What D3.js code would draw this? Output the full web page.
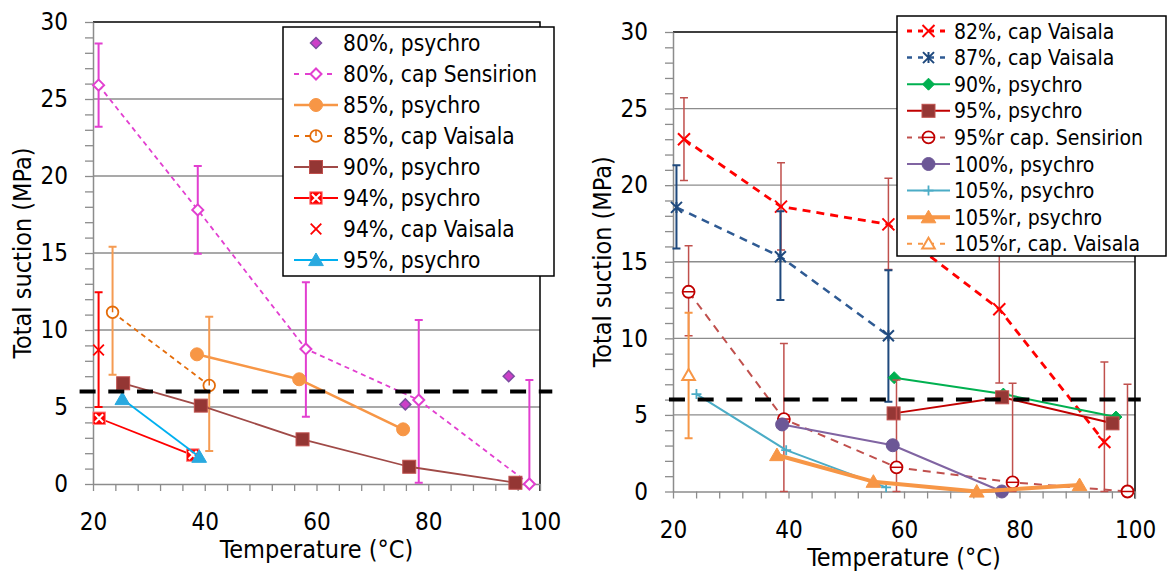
<!DOCTYPE html>
<html>
<head>
<meta charset="utf-8">
<script src="https://cdn.jsdelivr.net/npm/d3@7"></script>
<style>
  body { margin: 0; background: #fff; }
  svg { display: block; font-family: "DejaVu Sans Condensed", "DejaVu Sans", Verdana, sans-serif; font-stretch: condensed; }
</style>
</head>
<body>
<svg id="chart" width="1168" height="572"></svg>
<script>
// ---- values: [temperature, suction, errLow, errHigh] ----
var xTicks = [20, 40, 60, 80, 100];
var yTicks = [0, 5, 10, 15, 20, 25, 30];
var threshold = 6;
var thresholdLeft = [17.6, 102.2];
var thresholdRight = [19.3, 101.0];

// left panel
var psy80 = [[75.9, 5.17], [94.4, 7.0]];
var sens80 = [[21.0, 25.9, 23.2, 28.6], [38.75, 17.8, 14.95, 20.65], [58.1, 8.77, 4.37, 13.1], [78.3, 5.45, 0.08, 10.65], [98.1, 0, 0, 6.75]];
var psy85 = [[38.6, 8.42], [56.9, 6.8], [75.5, 3.55]];
var vais85 = [[23.5, 11.15, 7.1, 15.4], [40.8, 6.4, 2.14, 10.86]];
var psy90 = [[25.4, 6.54], [39.3, 5.09], [57.5, 2.9], [76.6, 1.12], [95.6, 0.08]];
var psy94 = [[21.1, 4.27], [37.85, 1.88]];
var vais94 = [[21.0, 8.7, 5.0, 12.45]];
var psy95 = [[25.25, 5.52], [39.0, 1.77]];

// right panel
var vais82 = [[21.9, 23.0, 20.3, 25.7], [38.7, 18.6, 15.76, 21.46], [57.3, 17.44, 14.5, 20.45], [76.5, 11.9, 7.08, 16.7], [94.7, 3.23, 0, 8.45]];
var vais87 = [[20.6, 18.55, 15.87, 21.3], [38.6, 15.33, 12.5, 18.3], [57.3, 10.17, 5.86, 14.45]];
var psy90r = [[58.3, 7.43], [77.2, 6.36], [96.7, 4.86]];
var psy95r = [[58.2, 5.1], [77.0, 6.15], [96.1, 4.45]];
var sens95r = [[22.7, 13.04, 10.17, 16.04], [39.2, 4.73, 0, 9.67], [58.7, 1.58, 0, 7.28], [78.8, 0.6, 0, 7.06], [98.7, 0, 0, 7.0]];
var psy100 = [[38.9, 4.38], [58.05, 3.02], [76.95, 0]];
var psy105 = [[24.06, 6.36], [39.6, 2.7], [56.9, 0.27]];
var psy105rr = [[38.0, 2.38], [54.7, 0.64], [72.6, 0], [90.4, 0.42]];
var vais105rr = [[22.7, 7.6, 3.47, 11.67]];

var leftSeries = [
  {name: "80%, psychro", data: psy80, line: null,
    marker: {shape: "diamond", r: 5.5, fill: "#CC3FC8", stroke: "#7B4EA0", sw: 1.5}},
  {name: "80%, cap Sensirion", data: sens80, line: {color: "#E23FD0", w: 1.8, dash: "5,4"},
    err: {color: "#E23FD0", w: 2},
    marker: {shape: "diamond", r: 5.5, fill: "#fff", stroke: "#E23FD0", sw: 2}},
  {name: "85%, psychro", data: psy85, line: {color: "#F79646", w: 2.5},
    marker: {shape: "circle", r: 6.5, fill: "#F79646", stroke: "#F79646", sw: 1}},
  {name: "85%, cap Vaisala", data: vais85, line: {color: "#E46C0A", w: 1.8, dash: "5,4"},
    err: {color: "#F59B52", w: 2},
    marker: {shape: "circleTick", r: 5.8, fill: "#fff", stroke: "#E46C0A", sw: 1.8}},
  {name: "90%, psychro", data: psy90, line: {color: "#A04A47", w: 1.8},
    marker: {shape: "square", r: 6.5, fill: "#943634", stroke: "#C0504D", sw: 1}},
  {name: "94%, psychro", data: psy94, line: {color: "#FF0000", w: 1.8},
    marker: {shape: "squareX", r: 6.2, fill: "#FF0000", stroke: "#FF8080", sw: 1}},
  {name: "94%, cap Vaisala", data: vais94, line: null,
    err: {color: "#FF0000", w: 2},
    marker: {shape: "x", r: 5.3, fill: "none", stroke: "#FF0000", sw: 1.8}},
  {name: "95%, psychro", data: psy95, line: {color: "#00B0F0", w: 1.8},
    marker: {shape: "triangle", r: 7, fill: "#29A9DF", stroke: "#29A9DF", sw: 1}}
];

var rightSeries = [
  {name: "82%, cap Vaisala", data: vais82, line: {color: "#FF0000", w: 2.8, dash: "8,6"},
    err: {color: "#C0504D", w: 1.5},
    marker: {shape: "x", r: 6, fill: "none", stroke: "#FF0000", sw: 2}},
  {name: "87%, cap Vaisala", data: vais87, line: {color: "#2E5A93", w: 2.5, dash: "8,6"},
    err: {color: "#1F497D", w: 2},
    marker: {shape: "star", r: 5.5, fill: "none", stroke: "#1F497D", sw: 2}},
  {name: "90%, psychro", data: psy90r, line: {color: "#00B050", w: 2},
    marker: {shape: "diamond", r: 6, fill: "#00B050", stroke: "#00B050", sw: 1}},
  {name: "95%, psychro", data: psy95r, line: {color: "#C00000", w: 2},
    marker: {shape: "square", r: 6.5, fill: "#953735", stroke: "#C0504D", sw: 1}},
  {name: "95%r cap. Sensirion", data: sens95r, line: {color: "#C0504D", w: 2, dash: "8,6"},
    err: {color: "#C0504D", w: 1.5},
    marker: {shape: "circleDash", r: 6, fill: "#fff", stroke: "#C00000", sw: 1.8}},
  {name: "100%, psychro", data: psy100, line: {color: "#8064A2", w: 2},
    marker: {shape: "circle", r: 6.5, fill: "#6C5796", stroke: "#6C5796", sw: 1}},
  {name: "105%, psychro", data: psy105, line: {color: "#4BACC6", w: 2},
    marker: {shape: "plus", r: 5, fill: "none", stroke: "#4BACC6", sw: 1.8}},
  {name: "105%r, psychro", data: psy105rr, line: {color: "#F79646", w: 4},
    marker: {shape: "triangle", r: 7, fill: "#F79646", stroke: "#F79646", sw: 1}},
  {name: "105%r, cap. Vaisala", data: vais105rr, line: {color: "#F79646", w: 2, dash: "8,6"},
    err: {color: "#F79646", w: 2},
    marker: {shape: "triangleOpen", r: 6, fill: "#fff", stroke: "#F79646", sw: 2}}
];

var svg = d3.select("#chart");

function drawMarker(g, m, cx, cy) {
  var r = m.r;
  var p;
  if (m.shape === "circle" || m.shape === "circleTick" || m.shape === "circleDash") {
    g.append("circle").attr("cx", cx).attr("cy", cy).attr("r", r)
      .attr("fill", m.fill).attr("stroke", m.stroke).attr("stroke-width", m.sw);
    if (m.shape === "circleTick") {
      g.append("line").attr("x1", cx).attr("x2", cx).attr("y1", cy - r).attr("y2", cy)
        .attr("stroke", m.stroke).attr("stroke-width", 1.5);
    }
    if (m.shape === "circleDash") {
      g.append("line").attr("x1", cx - r).attr("x2", cx + r).attr("y1", cy).attr("y2", cy)
        .attr("stroke", m.stroke).attr("stroke-width", 1.5);
    }
    return;
  }
  if (m.shape === "square" || m.shape === "squareX") {
    g.append("rect").attr("x", cx - r).attr("y", cy - r).attr("width", 2 * r).attr("height", 2 * r)
      .attr("fill", m.fill).attr("stroke", m.stroke).attr("stroke-width", m.sw);
    if (m.shape === "squareX") {
      var k = r * 0.65;
      g.append("path")
        .attr("d", "M" + (cx - k) + "," + (cy - k) + "L" + (cx + k) + "," + (cy + k) +
          "M" + (cx + k) + "," + (cy - k) + "L" + (cx - k) + "," + (cy + k))
        .attr("stroke", "#fff").attr("stroke-width", 2).attr("fill", "none");
    }
    return;
  }
  if (m.shape === "diamond") {
    p = "M" + cx + "," + (cy - r) + "L" + (cx + r) + "," + cy + "L" + cx + "," + (cy + r) + "L" + (cx - r) + "," + cy + "Z";
  } else if (m.shape === "triangle" || m.shape === "triangleOpen") {
    p = "M" + cx + "," + (cy - r) + "L" + (cx + r * 1.05) + "," + (cy + r * 0.8) + "L" + (cx - r * 1.05) + "," + (cy + r * 0.8) + "Z";
  } else if (m.shape === "x") {
    p = "M" + (cx - r) + "," + (cy - r) + "L" + (cx + r) + "," + (cy + r) + "M" + (cx + r) + "," + (cy - r) + "L" + (cx - r) + "," + (cy + r);
  } else if (m.shape === "star") {
    p = "M" + (cx - r) + "," + (cy - r) + "L" + (cx + r) + "," + (cy + r) + "M" + (cx + r) + "," + (cy - r) + "L" + (cx - r) + "," + (cy + r) +
      "M" + cx + "," + (cy - r) + "L" + cx + "," + (cy + r);
  } else if (m.shape === "plus") {
    p = "M" + (cx - r) + "," + cy + "L" + (cx + r) + "," + cy + "M" + cx + "," + (cy - r) + "L" + cx + "," + (cy + r);
  }
  g.append("path").attr("d", p).attr("fill", m.fill).attr("stroke", m.stroke).attr("stroke-width", m.sw);
}

function drawPanel(cfg) {
  var x = d3.scaleLinear().domain([20, 100]).range([cfg.left, cfg.right]);
  var y = d3.scaleLinear().domain([0, 30]).range([cfg.bottom, cfg.top]);
  var g = svg.append("g");
  var gridColor = "#8C8C8C";

  // gridlines
  g.append("g").selectAll("line")
    .data(yTicks.filter(function(d) { return d > 0 && d < 30; }))
    .enter().append("line")
    .attr("x1", cfg.left).attr("x2", cfg.right)
    .attr("y1", function(d) { return y(d); }).attr("y2", function(d) { return y(d); })
    .attr("stroke", gridColor).attr("stroke-width", 1.3);

  // top and right border of plot area
  g.append("path")
    .attr("d", "M" + cfg.left + "," + cfg.top + "H" + cfg.right + "V" + (cfg.bottom + 7))
    .attr("fill", "none").attr("stroke", "#000").attr("stroke-width", 1.5);

  // axes
  var yAxis = d3.axisLeft(y)
    .tickValues(d3.range(0, 31, 1))
    .tickSize(8).tickSizeOuter(0).tickPadding(17)
    .tickFormat(function(d) { return yTicks.indexOf(d) >= 0 ? d : ""; });
  var xAxis = d3.axisBottom(x)
    .tickValues(d3.range(20, 101, 4))
    .tickSize(7).tickSizeOuter(0).tickPadding(22)
    .tickFormat(function(d) { return xTicks.indexOf(d) >= 0 ? d : ""; });

  var ya = g.append("g").attr("transform", "translate(" + cfg.left + ",0)").call(yAxis);
  var xa = g.append("g").attr("transform", "translate(0," + cfg.bottom + ")").call(xAxis);
  [ya, xa].forEach(function(a) {
    a.select(".domain").attr("stroke", gridColor).attr("stroke-width", 1.5);
    a.selectAll(".tick line").attr("stroke", gridColor).attr("stroke-width", 1.3);
    a.selectAll("text").attr("fill", "#000").style("font-size", "24px")
      .style("font-family", '"DejaVu Sans Condensed", "DejaVu Sans", Verdana, sans-serif');
  });

  // axis titles
  g.append("text")
    .attr("x", (cfg.left + cfg.right) / 2).attr("y", cfg.bottom + 74)
    .attr("text-anchor", "middle").style("font-size", "25px")
    .text("Temperature (°C)");
  g.append("text")
    .attr("transform", "translate(" + cfg.yTitleX + "," + ((cfg.top + cfg.bottom) / 2) + ") rotate(-90)")
    .attr("text-anchor", "middle").style("font-size", "25px")
    .text("Total suction (MPa)");

  // series
  var line = d3.line().x(function(d) { return x(d[0]); }).y(function(d) { return y(d[1]); });
  cfg.series.forEach(function(s) {
    var sg = g.append("g");
    if (s.line) {
      sg.append("path").datum(s.data).attr("d", line)
        .attr("fill", "none").attr("stroke", s.line.color).attr("stroke-width", s.line.w)
        .attr("stroke-dasharray", s.line.dash || null).attr("stroke-linejoin", "round");
    }
    if (s.err) {
      s.data.forEach(function(d) {
        var px = x(d[0]);
        var path = "M" + px + "," + y(d[2]) + "V" + y(d[3]) +
          "M" + (px - 4) + "," + y(d[2]) + "h8" + "M" + (px - 4) + "," + y(d[3]) + "h8";
        sg.append("path").attr("d", path).attr("fill", "none")
          .attr("stroke", s.err.color).attr("stroke-width", s.err.w);
      });
    }
    s.data.forEach(function(d) { drawMarker(sg, s.marker, x(d[0]), y(d[1])); });
  });

  // 6 MPa reference line
  g.append("line")
    .attr("x1", x(cfg.thresh[0])).attr("x2", x(cfg.thresh[1]))
    .attr("y1", y(threshold)).attr("y2", y(threshold))
    .attr("stroke", "#000").attr("stroke-width", 4).attr("stroke-dasharray", "16,12.7");

  // legend
  var lg = g.append("g");
  lg.append("rect")
    .attr("x", cfg.legend.x).attr("y", cfg.legend.y)
    .attr("width", cfg.legend.w).attr("height", cfg.legend.h)
    .attr("fill", "#fff").attr("stroke", "#000").attr("stroke-width", 1.5);
  cfg.series.forEach(function(s, i) {
    var cy = cfg.legend.row0 + i * cfg.legend.step;
    var sx0 = cfg.legend.sx0, sx1 = cfg.legend.sx1;
    if (s.line) {
      lg.append("line").attr("x1", sx0).attr("x2", sx1).attr("y1", cy).attr("y2", cy)
        .attr("stroke", s.line.color).attr("stroke-width", s.line.w)
        .attr("stroke-dasharray", s.line.dash ? "5,6" : null);
    }
    drawMarker(lg, s.marker, (sx0 + sx1) / 2, cy);
    lg.append("text").attr("x", cfg.legend.tx).attr("y", cy + cfg.legend.fs * 0.36)
      .style("font-size", cfg.legend.fs + "px").text(s.name);
  });
}

drawPanel({
  left: 93, right: 540, top: 22, bottom: 484, yTitleX: 31,
  series: leftSeries, thresh: thresholdLeft,
  legend: {x: 283, y: 27, w: 271, h: 249, row0: 43, step: 31, sx0: 294, sx1: 338, tx: 343, fs: 22.5}
});
drawPanel({
  left: 673, right: 1135, top: 32, bottom: 491.5, yTitleX: 611,
  series: rightSeries, thresh: thresholdRight,
  legend: {x: 897, y: 16, w: 269, h: 240, row0: 31, step: 26.6, sx0: 907, sx1: 950, tx: 954, fs: 21}
});
</script>
</body>
</html>
